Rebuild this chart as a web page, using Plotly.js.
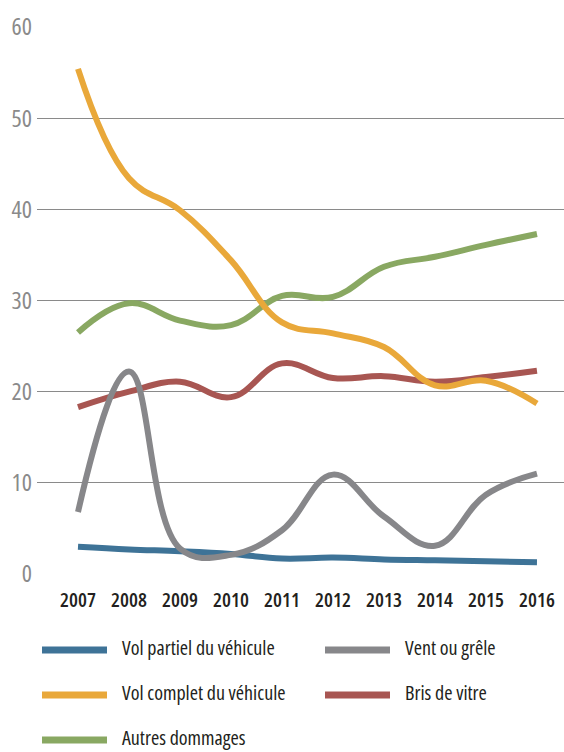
<!DOCTYPE html>
<html>
<head>
<meta charset="utf-8">
<script src="https://cdn.plot.ly/plotly-3.0.1.min.js"></script>
<style>
html,body{margin:0;padding:0;background:#fff;}
#chart{width:564px;height:752px;}
svg text, text{font-stretch:condensed !important;}
</style>
</head>
<body>
<div id="chart"></div>
<script>
const years = [2007, 2008, 2009, 2010, 2011, 2012, 2013, 2014, 2015, 2016];
const yTicks = [0, 10, 20, 30, 40, 50, 60];

const volPartiel  = [3.0, 2.7, 2.5, 2.2, 1.7, 1.8, 1.6, 1.5, 1.4, 1.3];
const ventGrele   = [6.8, 22.2, 2.8, 2.1, 4.8, 10.9, 6.3, 3.1, 8.7, 11.0];
const volComplet  = [55.4, 43.4, 39.9, 34.4, 27.6, 26.4, 24.9, 20.7, 21.2, 18.7];
const brisVitre   = [18.3, 20.0, 21.1, 19.4, 23.1, 21.5, 21.7, 21.1, 21.6, 22.3];
const autresDomm  = [26.5, 29.7, 27.8, 27.3, 30.5, 30.4, 33.7, 34.8, 36.1, 37.3];

const seriesNames  = ["Vol partiel du véhicule", "Vent ou grêle", "Vol complet du véhicule", "Bris de vitre", "Autres dommages"];
const seriesValues = [volPartiel, ventGrele, volComplet, brisVitre, autresDomm];
const seriesColors = ["#3E7397", "#87878A", "#E9A83A", "#A85652", "#89A862"];

const FONT = "'Open Sans', 'Roboto Condensed', sans-serif";

// drawing order (back to front)
const drawOrder = [4, 3, 2, 0, 1];
const traces = drawOrder.map(i => ({
  type: 'scatter', mode: 'lines', name: seriesNames[i],
  x: years, y: seriesValues[i],
  line: {color: seriesColors[i], width: 6, shape: 'spline', smoothing: 1.15},
  cliponaxis: false, hoverinfo: 'skip'
}));

// custom legend (paper coordinates)
const L = 37, T = 27, W = 527, H = 547;
const px = v => (v - L) / W;
const py = v => (574 - v) / H;
const legendPos = [
  {lx: 42, tx: 121, y: 650},
  {lx: 325, tx: 404, y: 650},
  {lx: 42, tx: 121, y: 695},
  {lx: 325, tx: 404, y: 695},
  {lx: 42, tx: 121, y: 740}
];
const shapes = [], annotations = [];
seriesNames.forEach((n, i) => {
  const p = legendPos[i];
  shapes.push({type: 'line', xref: 'paper', yref: 'paper',
    x0: px(p.lx), x1: px(p.lx + 65), y0: py(p.y), y1: py(p.y),
    line: {color: seriesColors[i], width: 7}});
  annotations.push({xref: 'paper', yref: 'paper', x: px(p.tx), y: py(p.y - 3),
    xanchor: 'left', yanchor: 'middle', showarrow: false, text: n,
    borderpad: 0, font: {family: FONT, size: 20, color: '#231F20', weight: 500}});
});

const layout = {
  width: 564, height: 752,
  margin: {l: L, r: 0, t: T, b: 752 - 574},
  paper_bgcolor: '#ffffff', plot_bgcolor: '#ffffff',
  showlegend: false,
  xaxis: {
    range: [2006.196, 2016.53], tickvals: years, ticktext: years.map(String),
    showgrid: false, zeroline: false, showline: false, ticks: '',
    ticklabelstandoff: 12,
    tickfont: {family: FONT, size: 20, color: '#231F20', weight: 600}
  },
  yaxis: {
    range: [0, 60], tickvals: yTicks, ticktext: yTicks.map(String),
    showgrid: true, gridcolor: '#8a8a8a', gridwidth: 1,
    zeroline: false, showline: false, ticks: '', ticklabelstandoff: 4,
    tickfont: {family: FONT, size: 24, color: '#8a8a8a', weight: 500}
  },
  shapes: shapes, annotations: annotations
};

Plotly.newPlot('chart', traces, layout, {displayModeBar: false, staticPlot: true});
</script>
</body>
</html>
